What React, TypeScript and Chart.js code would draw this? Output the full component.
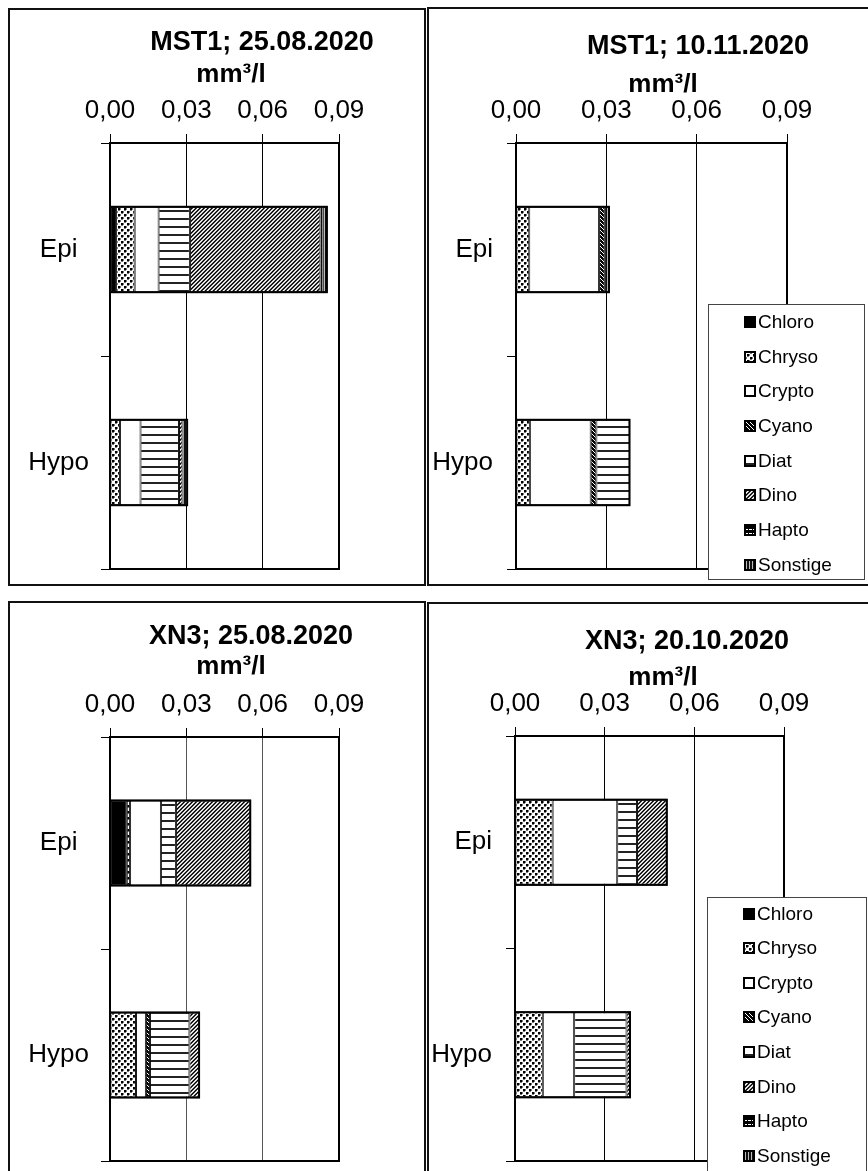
import React, { useEffect, useRef } from 'react';
import { Chart, registerables } from 'chart.js';

Chart.register(...registerables);

// ---------- data ----------
const categories = ['Epi', 'Hypo'];
const seriesNames = ['Chloro', 'Chryso', 'Crypto', 'Cyano', 'Diat', 'Dino', 'Hapto', 'Sonstige'];
const xTickValues = [0, 0.03, 0.06, 0.09];
const unitLabel = 'mm³/l';
const panelTitles = ['MST1; 25.08.2020', 'MST1; 10.11.2020', 'XN3; 25.08.2020', 'XN3; 20.10.2020'];

// values per series (Chloro, Chryso, Crypto, Cyano, Diat, Dino, Hapto, Sonstige) in mm³/l
const mst1Aug25Epi = [0.0024, 0.0073, 0.0094, 0, 0.0123, 0.0513, 0.0008, 0.0021];
const mst1Aug25Hypo = [0, 0.0039, 0.0081, 0, 0.0151, 0.0014, 0, 0.0022];
const mst1Nov10Epi = [0, 0.0044, 0.0232, 0.0019, 0, 0, 0, 0.0017];
const mst1Nov10Hypo = [0, 0.0046, 0.0202, 0.0019, 0.0113, 0, 0, 0];
const xn3Aug25Epi = [0.0066, 0.0013, 0.0121, 0, 0.0059, 0.0296, 0, 0];
const xn3Aug25Hypo = [0, 0.0102, 0.0039, 0.0016, 0.0155, 0.0042, 0, 0];
const xn3Oct20Epi = [0, 0.0126, 0.0216, 0, 0.0066, 0.0103, 0, 0];
const xn3Oct20Hypo = [0, 0.0093, 0.0105, 0, 0.0175, 0.0015, 0, 0];

// ---------- layout ----------
const FONT = "'Liberation Sans', Arial, Helvetica, sans-serif";
const Y_AXIS_W = 100;
const X_AXIS_H = 133;
const PAD_R = 85;
const PAD_B = 15;

type Panel = {
  title: string;
  epi: number[];
  hypo: number[];
  frame: { left: number; top: number; width: number; height: number };
  area: { left: number; top: number; right: number; bottom: number };
  titleAt: { dx: number; dy: number };
  unitAt: { dx: number; dy: number };
  gridColor: string;
  catAlign: 'center' | 'near';
  catPad: number;
  legend: null | { left: number; top: number; width: number; height: number; first: number; iconX: number };
};

const PANELS: Panel[] = [
  {
    title: panelTitles[0], epi: mst1Aug25Epi, hypo: mst1Aug25Hypo,
    frame: { left: 8, top: 8, width: 418, height: 578 },
    area: { left: 110, top: 143, right: 339, bottom: 569 },
    titleAt: { dx: 152, dy: -93 }, unitAt: { dx: 121, dy: -61 },
    gridColor: '#000', catAlign: 'center', catPad: 12, legend: null,
  },
  {
    title: panelTitles[1], epi: mst1Nov10Epi, hypo: mst1Nov10Hypo,
    frame: { left: 427, top: 7, width: 500, height: 579 },
    area: { left: 516, top: 143, right: 787, bottom: 569 },
    titleAt: { dx: 182, dy: -89 }, unitAt: { dx: 147, dy: -51 },
    gridColor: '#000', catAlign: 'near', catPad: 14,
    legend: { left: 708, top: 304, width: 157, height: 276, first: 17, iconX: 35 },
  },
  {
    title: panelTitles[2], epi: xn3Aug25Epi, hypo: xn3Aug25Hypo,
    frame: { left: 8, top: 601, width: 418, height: 620 },
    area: { left: 110, top: 737, right: 339, bottom: 1161 },
    titleAt: { dx: 141, dy: -93.5 }, unitAt: { dx: 121, dy: -63.5 },
    gridColor: '#555', catAlign: 'center', catPad: 12, legend: null,
  },
  {
    title: panelTitles[3], epi: xn3Oct20Epi, hypo: xn3Oct20Hypo,
    frame: { left: 427, top: 602, width: 500, height: 620 },
    area: { left: 515, top: 736, right: 784, bottom: 1161 },
    titleAt: { dx: 172, dy: -87.5 }, unitAt: { dx: 148, dy: -51 },
    gridColor: '#000', catAlign: 'near', catPad: 14,
    legend: { left: 707, top: 897, width: 160, height: 290, first: 15.5, iconX: 35 },
  },
];

// ---------- patterns ----------
function makeFill(name: string): string | CanvasPattern {
  if (name === 'Chloro') return '#000000';
  if (name === 'Crypto') return '#ffffff';
  const c = document.createElement('canvas');
  const g = c.getContext('2d') as CanvasRenderingContext2D;
  const px = (x: number, y: number, col: string) => { g.fillStyle = col; g.fillRect(x, y, 1, 1); };
  if (name === 'Chryso') {
    c.width = 6; c.height = 6;
    g.fillStyle = '#fff'; g.fillRect(0, 0, 6, 6);
    g.fillStyle = '#000'; g.fillRect(0, 0, 2, 2); g.fillRect(3, 3, 2, 2);
    g.fillStyle = '#777'; g.fillRect(2, 0, 1, 2); g.fillRect(0, 2, 2, 1); g.fillRect(5, 3, 1, 2); g.fillRect(3, 5, 2, 1);
  } else if (name === 'Cyano') {
    c.width = 4; c.height = 4;
    g.fillStyle = '#000'; g.fillRect(0, 0, 4, 4);
    for (let i = 0; i < 4; i++) px(i, i, '#fff');
  } else if (name === 'Diat') {
    c.width = 8; c.height = 8;
    g.fillStyle = '#fff'; g.fillRect(0, 0, 8, 8);
    g.fillStyle = '#222'; g.fillRect(0, 0, 8, 2);
  } else if (name === 'Dino') {
    c.width = 4; c.height = 4;
    g.fillStyle = '#fff'; g.fillRect(0, 0, 4, 4);
    for (let x = 0; x < 4; x++) for (let y = 0; y < 4; y++) {
      const k = (x + y) % 4;
      if (k === 3) px(x, y, '#000');
      else if (k === 0) px(x, y, '#444');
      else if (k === 2) px(x, y, '#bbb');
    }
  } else if (name === 'Hapto') {
    c.width = 4; c.height = 4;
    g.fillStyle = '#000'; g.fillRect(0, 0, 4, 4);
    g.fillStyle = '#fff'; g.fillRect(1, 1, 3, 1);
  } else {
    c.width = 3; c.height = 3;
    g.fillStyle = '#111'; g.fillRect(0, 0, 3, 3);
    g.fillStyle = '#bbb'; g.fillRect(2, 0, 1, 3);
  }
  return g.createPattern(c, 'repeat') as CanvasPattern;
}

// ---------- plugins ----------
const framePlugin = {
  id: 'plotFrame',
  beforeDatasetsDraw(chart: any) {
    const { ctx, chartArea: a } = chart;
    ctx.save();
    ctx.strokeStyle = '#000';
    ctx.lineWidth = 2;
    ctx.strokeRect(a.left, a.top, a.right - a.left, a.bottom - a.top);
    ctx.restore();
  },
};

// outline around each full stacked bar, taken from the bar elements
const stackOutlinePlugin = {
  id: 'stackOutline',
  afterDatasetsDraw(chart: any) {
    const { ctx } = chart;
    const n = chart.data.labels.length;
    ctx.save();
    ctx.strokeStyle = '#000';
    ctx.lineWidth = 2;
    for (let j = 0; j < n; j++) {
      let minX = Infinity, maxX = -Infinity, top = 0, h = 0;
      chart.data.datasets.forEach((_d: any, i: number) => {
        const el = chart.getDatasetMeta(i).data[j];
        if (!el) return;
        const l = Math.min(el.x, el.base);
        const r = Math.max(el.x, el.base);
        minX = Math.min(minX, l);
        maxX = Math.max(maxX, r);
        top = el.y - el.height / 2;
        h = el.height;
      });
      if (maxX > minX) ctx.strokeRect(minX, top + 1, maxX - minX - 1, h - 2);
    }
    ctx.restore();
  },
};

const panelTextPlugin = {
  id: 'panelText',
  afterDraw(chart: any, _args: any, opts: any) {
    const { ctx, chartArea: a } = chart;
    ctx.save();
    ctx.fillStyle = '#000';
    ctx.textAlign = 'center';
    ctx.textBaseline = 'alphabetic';
    ctx.font = `bold 27px ${FONT}`;
    ctx.fillText(opts.title, a.left + opts.titleAt.dx, a.top + opts.titleAt.dy);
    ctx.font = `bold 26px ${FONT}`;
    ctx.fillText(opts.unit, a.left + opts.unitAt.dx, a.top + opts.unitAt.dy);
    ctx.restore();
  },
};

function PanelChart({ p }: { p: Panel }) {
  const ref = useRef<HTMLCanvasElement>(null);
  const cLeft = p.area.left - Y_AXIS_W;
  const cTop = p.area.top - X_AXIS_H;
  const cW = p.area.right - cLeft + PAD_R;
  const cH = p.area.bottom - cTop + PAD_B;

  useEffect(() => {
    const canvas = ref.current as HTMLCanvasElement;
    const datasets = seriesNames.map((name, i) => ({
      label: name,
      data: [p.epi[i], p.hypo[i]],
      backgroundColor: makeFill(name),
      borderColor: '#000',
      borderWidth: { top: 2, bottom: 2, left: 1, right: 1 },
      borderSkipped: false,
      inflateAmount: 0,
      barPercentage: 0.41,
      categoryPercentage: 1,
    }));
    const chart = new Chart(canvas, {
      type: 'bar',
      data: { labels: categories, datasets: datasets as any },
      options: {
        indexAxis: 'y',
        responsive: false,
        animation: false,
        events: [],
        layout: { padding: { top: 0, left: 0, right: PAD_R, bottom: PAD_B } },
        plugins: {
          legend: { display: false },
          tooltip: { enabled: false },
          title: { display: false },
          panelText: { title: p.title, unit: unitLabel, titleAt: p.titleAt, unitAt: p.unitAt },
        } as any,
        scales: {
          x: {
            type: 'linear',
            position: 'top',
            stacked: true,
            min: 0,
            max: 0.09,
            afterBuildTicks: (s: any) => { s.ticks = xTickValues.map((v) => ({ value: v })); },
            afterFit: (s: any) => {
              s.height = X_AXIS_H;
              s.paddingLeft = 0; s.paddingRight = 0;
            },
            ticks: {
              color: '#000',
              font: { family: FONT, size: 26, lineHeight: 1.2 },
              padding: 8,
              maxRotation: 0,
              callback: (v: any) => Number(v).toFixed(2).replace('.', ','),
            },
            grid: { color: p.gridColor, lineWidth: 1, tickLength: 9, tickColor: '#000', drawOnChartArea: true },
            border: { display: false },
          },
          y: {
            type: 'category',
            stacked: true,
            afterFit: (s: any) => {
              s.width = Y_AXIS_W;
              s.paddingTop = 0; s.paddingBottom = 0;
            },
            ticks: {
              color: '#000',
              font: { family: FONT, size: 26 },
              padding: p.catPad,
              crossAlign: p.catAlign,
            },
            grid: { color: '#000', lineWidth: 1, tickLength: 9, drawOnChartArea: false, offset: true },
            border: { display: false },
          },
        },
      } as any,
      plugins: [framePlugin, stackOutlinePlugin, panelTextPlugin],
    });
    return () => chart.destroy();
  }, []);

  return (
    <canvas
      ref={ref}
      width={cW}
      height={cH}
      style={{ position: 'absolute', left: cLeft, top: cTop, width: cW, height: cH }}
    />
  );
}

function LegendIcon({ name }: { name: string }) {
  const ref = useRef<HTMLCanvasElement>(null);
  useEffect(() => {
    const c = ref.current as HTMLCanvasElement;
    const g = c.getContext('2d') as CanvasRenderingContext2D;
    g.clearRect(0, 0, 12, 12);
    g.fillStyle = makeFill(name) as any;
    g.fillRect(0, 0, 12, 12);
    g.strokeStyle = '#000';
    g.lineWidth = 2;
    g.strokeRect(1, 1, 10, 10);
  }, [name]);
  return <canvas ref={ref} width={12} height={12} style={{ width: 12, height: 12, display: 'block' }} />;
}

function Legend({ l }: { l: NonNullable<Panel['legend']> }) {
  return (
    <div
      style={{
        position: 'absolute', left: l.left, top: l.top, width: l.width, height: l.height,
        boxSizing: 'border-box', border: '1px solid #444', background: '#fff',
      }}
    >
      {seriesNames.map((n, i) => (
        <div
          key={n}
          style={{
            position: 'absolute', left: l.iconX, top: l.first + 34.65 * i - 10, height: 20,
            display: 'flex', alignItems: 'center', whiteSpace: 'nowrap',
          }}
        >
          <LegendIcon name={n} />
          <span style={{ fontFamily: FONT, fontSize: 19, lineHeight: '20px', color: '#000', marginLeft: 2 }}>{n}</span>
        </div>
      ))}
    </div>
  );
}

export default function App() {
  return (
    <div style={{ position: 'absolute', left: 0, top: 0, width: 868, height: 1171, overflow: 'hidden', background: '#fff' }}>
      {PANELS.map((p, i) => (
        <div
          key={'f' + i}
          style={{
            position: 'absolute', left: p.frame.left, top: p.frame.top, width: p.frame.width, height: p.frame.height,
            boxSizing: 'border-box', border: '2px solid #111',
          }}
        />
      ))}
      {PANELS.map((p, i) => <PanelChart key={'c' + i} p={p} />)}
      {PANELS.map((p, i) => (p.legend ? <Legend key={'l' + i} l={p.legend} /> : null))}
    </div>
  );
}
